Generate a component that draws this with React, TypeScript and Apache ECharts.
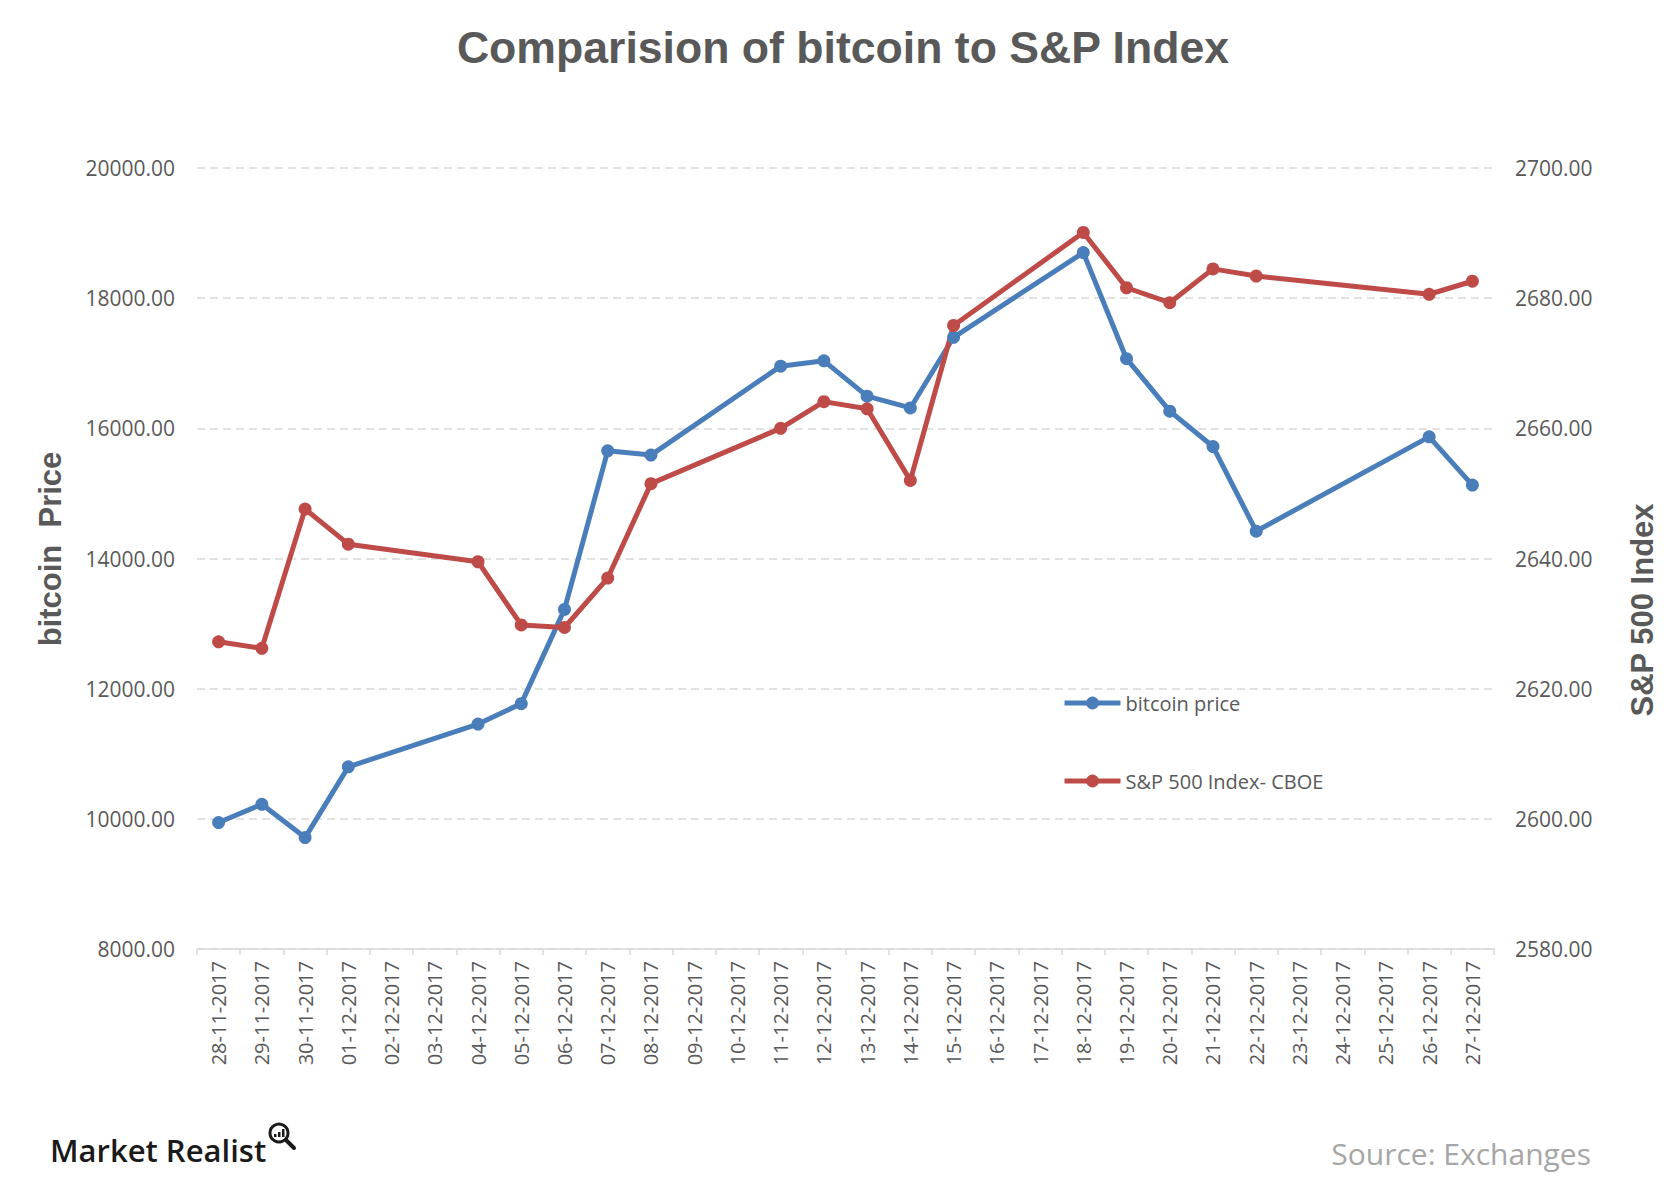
import React, { useEffect, useRef } from "react";
import * as echarts from "echarts";

const categories = [
  "28-11-2017", "29-11-2017", "30-11-2017", "01-12-2017", "02-12-2017", "03-12-2017",
  "04-12-2017", "05-12-2017", "06-12-2017", "07-12-2017", "08-12-2017", "09-12-2017",
  "10-12-2017", "11-12-2017", "12-12-2017", "13-12-2017", "14-12-2017", "15-12-2017",
  "16-12-2017", "17-12-2017", "18-12-2017", "19-12-2017", "20-12-2017", "21-12-2017",
  "22-12-2017", "23-12-2017", "24-12-2017", "25-12-2017", "26-12-2017", "27-12-2017",
];

const bitcoinPrice: (number | null)[] = [
  9943, 10223, 9712, 10799, null, null,
  11457, 11770, 13218, 15655, 15589, null,
  null, 16955, 17037, 16494, 16313, 17399,
  null, null, 18700, 17070, 16264, 15720,
  14420, null, null, null, 15869, 15128,
];

const spIndex: (number | null)[] = [
  2627.2, 2626.2, 2647.6, 2642.2, null, null,
  2639.5, 2629.8, 2629.4, 2637.0, 2651.5, null,
  null, 2660.0, 2664.1, 2663.0, 2652.0, 2675.8,
  null, null, 2690.1, 2681.6, 2679.3, 2684.5,
  2683.4, null, null, null, 2680.6, 2682.6,
];

const leftTicks = { min: 8000, max: 20000, interval: 2000 };
const rightTicks = { min: 2580, max: 2700, interval: 20 };

const BLUE = "#4a7ebb";
const RED = "#be4b48";
const TEXT = "#595959";
const LABEL_FONT = "'Open Sans', 'Noto Sans', sans-serif";
const BOLD_FONT = "'Liberation Sans', Arial, sans-serif";

export default function App() {
  const ref = useRef<HTMLDivElement>(null);

  useEffect(() => {
    if (!ref.current) return;
    const chart = echarts.init(ref.current, undefined, { renderer: "svg" });
    chart.setOption({
      animation: false,
      backgroundColor: "#ffffff",
      title: {
        text: "Comparision of bitcoin to S&P Index",
        left: 838,
        textAlign: "center",
        top: 20,
        textStyle: { fontFamily: BOLD_FONT, fontWeight: "bold", fontSize: 44.6, color: TEXT },
      },
      grid: { left: 197, right: 186, top: 168, bottom: 251 },
      legend: {
        orient: "vertical",
        left: 1057,
        top: 688,
        itemGap: 58,
        itemWidth: 56,
        itemHeight: 16,
        itemTextGap: 2,
        lineStyle: { width: 5 },
        textStyle: { fontFamily: LABEL_FONT, fontSize: 20, color: TEXT },
        data: ["bitcoin price", "S&P 500 Index- CBOE"],
      },
      xAxis: {
        type: "category",
        data: categories,
        boundaryGap: true,
        axisLine: { lineStyle: { color: "#d9d9d9", width: 1.5 } },
        axisTick: { show: true, length: 6, lineStyle: { color: "#d9d9d9", width: 1.5 } },
        axisLabel: {
          interval: 0,
          rotate: 90,
          margin: 12,
          fontFamily: LABEL_FONT,
          fontSize: 20,
          color: TEXT,
        },
        splitLine: { show: false },
      },
      yAxis: [
        {
          type: "value",
          ...leftTicks,
          axisLine: { show: false },
          axisTick: { show: false },
          axisLabel: {
            margin: 22,
            fontFamily: LABEL_FONT,
            fontSize: 21,
            color: TEXT,
            formatter: (v: number) => v.toFixed(2),
          },
          splitLine: { lineStyle: { color: "#d9d9d9", width: 1.5, type: [8, 5] } },
        },
        {
          type: "value",
          ...rightTicks,
          axisLine: { show: false },
          axisTick: { show: false },
          axisLabel: {
            margin: 21,
            fontFamily: LABEL_FONT,
            fontSize: 21,
            color: TEXT,
            formatter: (v: number) => v.toFixed(2),
          },
          splitLine: { show: false },
        },
      ],
      series: [
        {
          name: "bitcoin price",
          type: "line",
          yAxisIndex: 0,
          data: bitcoinPrice,
          connectNulls: true,
          symbol: "circle",
          symbolSize: 13,
          lineStyle: { color: BLUE, width: 5 },
          itemStyle: { color: BLUE },
        },
        {
          name: "S&P 500 Index- CBOE",
          type: "line",
          yAxisIndex: 1,
          data: spIndex,
          connectNulls: true,
          symbol: "circle",
          symbolSize: 13,
          lineStyle: { color: RED, width: 5 },
          itemStyle: { color: RED },
        },
      ],
      graphic: [
        {
          type: "text",
          x: 50,
          y: 549,
          rotation: Math.PI / 2,
          style: {
            text: "bitcoin  Price",
            fontFamily: BOLD_FONT,
            fontWeight: "bold",
            fontSize: 31,
            fill: TEXT,
            align: "center",
            verticalAlign: "middle",
          },
        },
        {
          type: "text",
          x: 1642,
          y: 610,
          rotation: Math.PI / 2,
          style: {
            text: "S&P 500 Index",
            fontFamily: BOLD_FONT,
            fontWeight: "bold",
            fontSize: 31,
            fill: TEXT,
            align: "center",
            verticalAlign: "middle",
          },
        },
        {
          type: "text",
          x: 50,
          y: 1150,
          style: {
            text: "Market Realist",
            fontFamily: LABEL_FONT,
            fontWeight: 600,
            fontSize: 31,
            fill: "#1a1a1a",
            align: "left",
            verticalAlign: "middle",
          },
        },
        {
          type: "circle",
          shape: { cx: 279, cy: 1133, r: 9 },
          style: { fill: "none", stroke: "#1a1a1a", lineWidth: 3 },
        },
        {
          type: "line",
          shape: { x1: 286, y1: 1140, x2: 294, y2: 1148 },
          style: { stroke: "#1a1a1a", lineWidth: 4, lineCap: "round" },
        },
        { type: "rect", shape: { x: 274, y: 1134, width: 2.5, height: 3 }, style: { fill: "#1a1a1a" } },
        { type: "rect", shape: { x: 278, y: 1132, width: 2.5, height: 5 }, style: { fill: "#1a1a1a" } },
        { type: "rect", shape: { x: 282, y: 1129, width: 2.5, height: 8 }, style: { fill: "#1a1a1a" } },
        {
          type: "text",
          x: 1591,
          y: 1153,
          style: {
            text: "Source: Exchanges",
            fontFamily: LABEL_FONT,
            fontSize: 30,
            fill: "#a6a6a6",
            align: "right",
            verticalAlign: "middle",
          },
        },
      ],
    });
    return () => chart.dispose();
  }, []);

  return (
    <div
      ref={ref}
      style={{ position: "absolute", left: 0, top: 0, width: 1680, height: 1200 }}
    />
  );
}
